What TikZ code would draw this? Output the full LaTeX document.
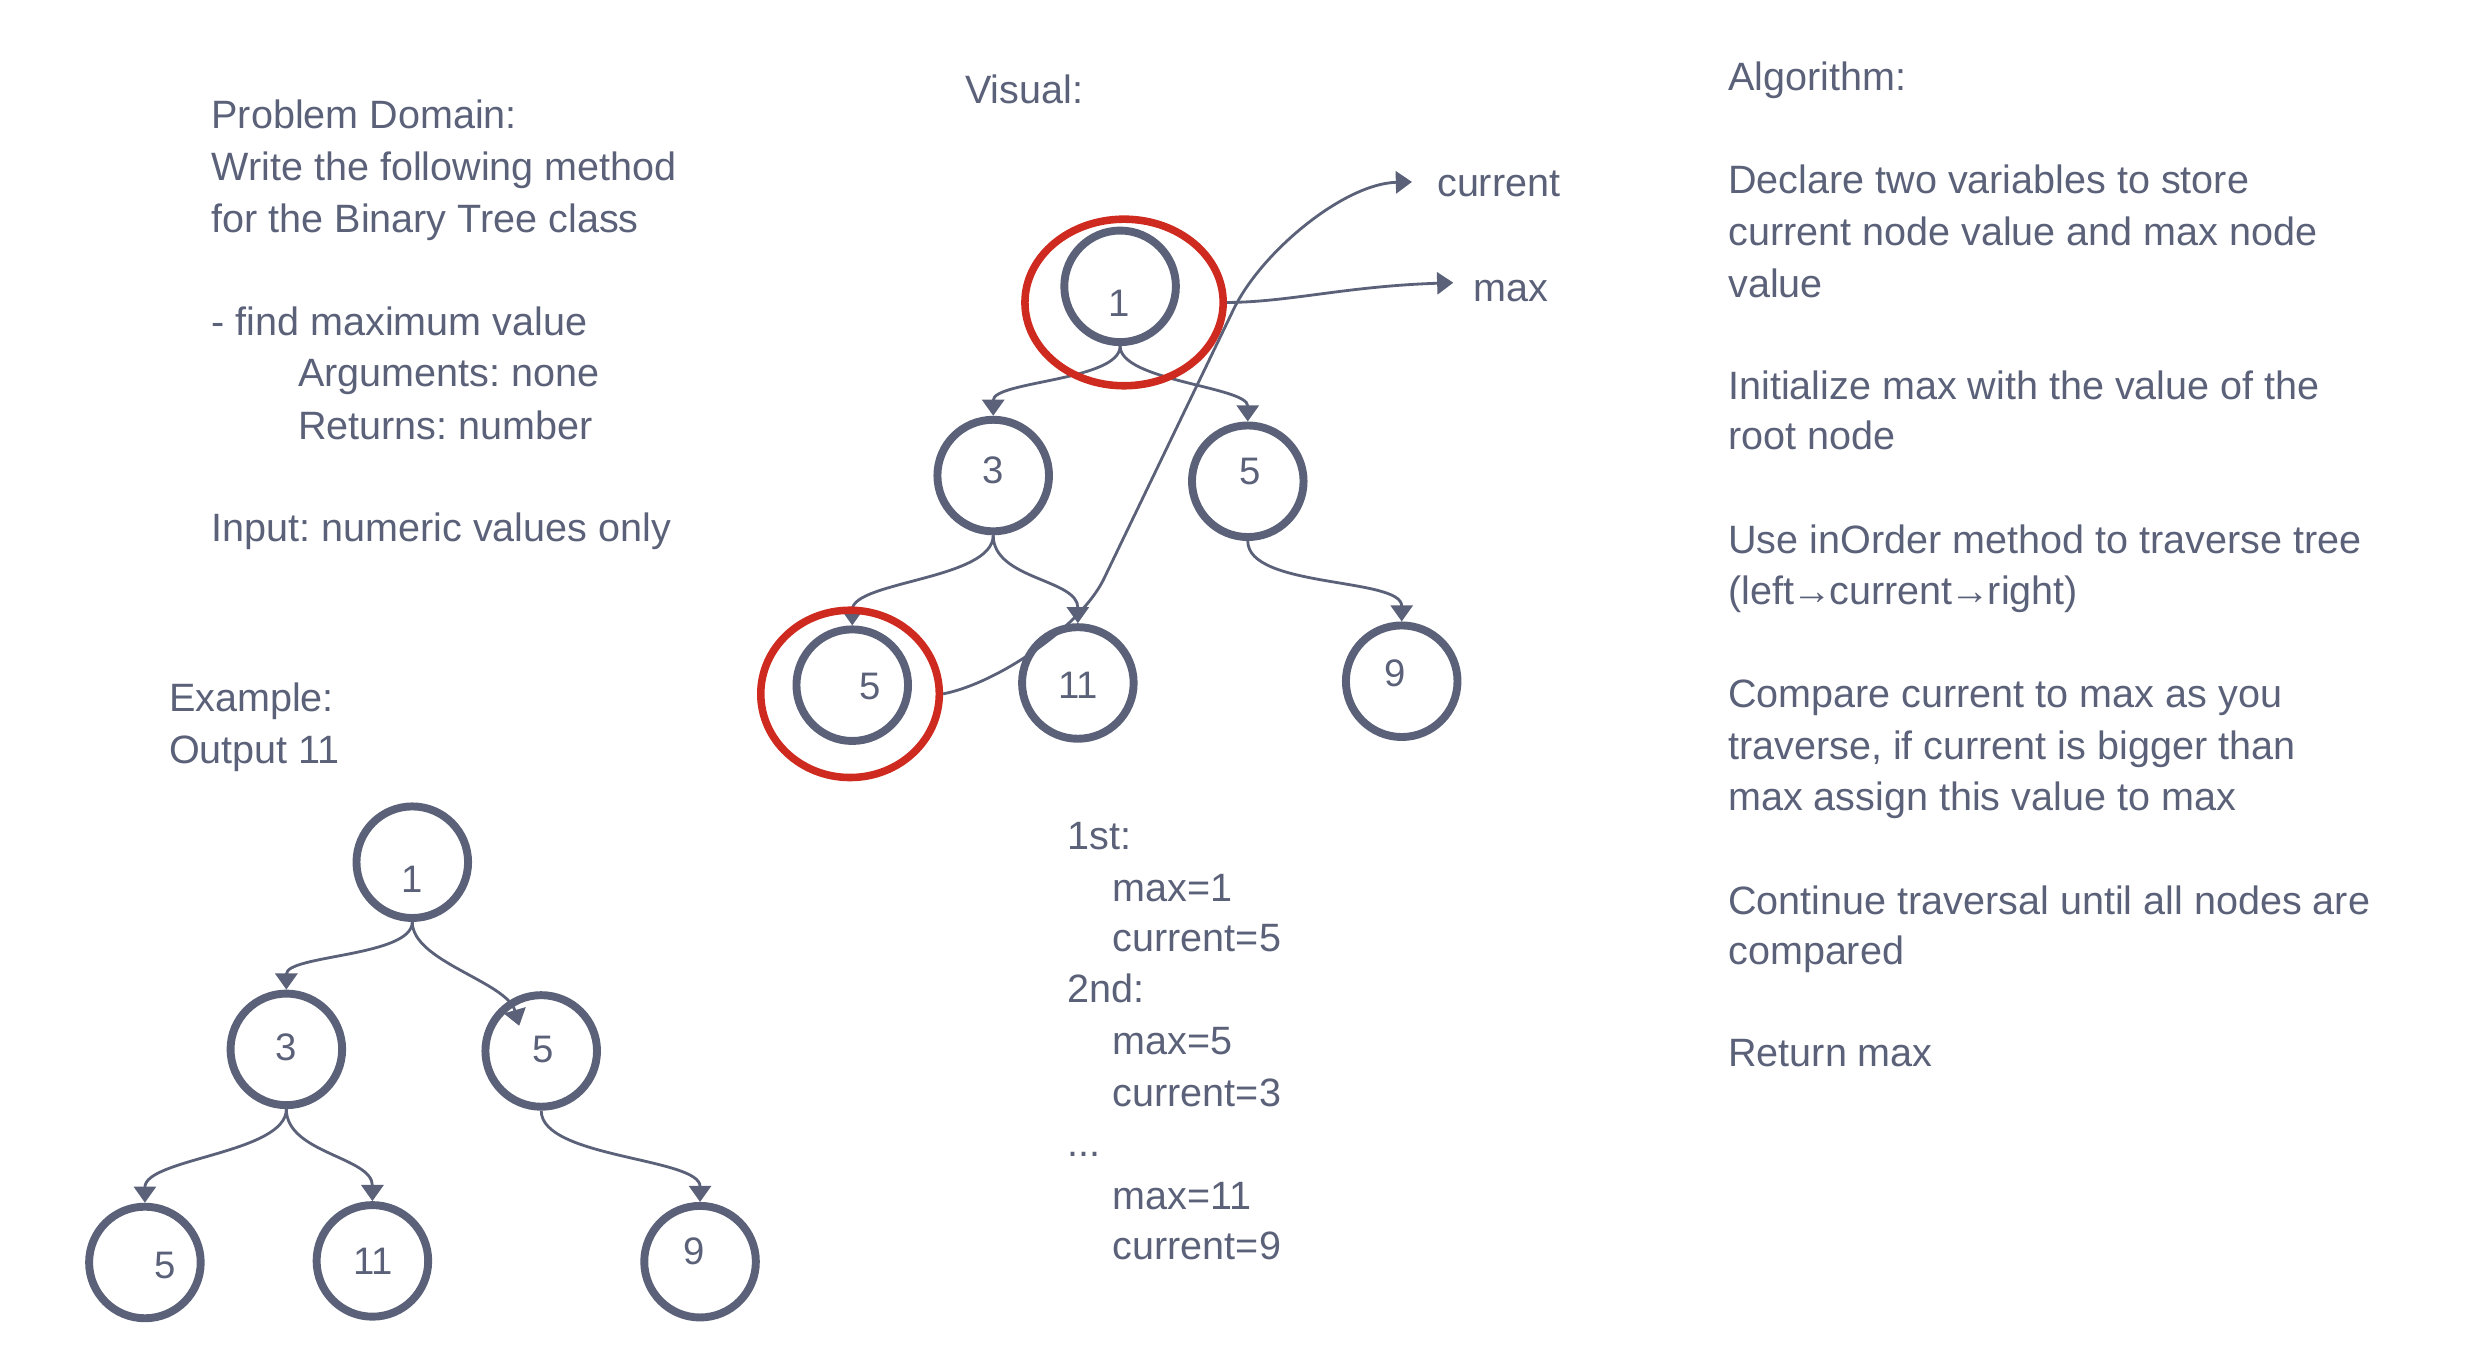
\documentclass[tikz,border=0pt]{standalone}
\usepackage{fontspec}
\setmainfont{Liberation Sans}
\usetikzlibrary{arrows.meta,shapes.geometric}
\definecolor{ink}{HTML}{5A6178}
\definecolor{redc}{HTML}{CF2A1F}
\frenchspacing
\begin{document}
\begin{tikzpicture}[x=0.158205mm,y=-0.158205mm,
  txt/.style={anchor=base west,inner sep=0pt,text=ink,font=\fontsize{11.25}{14}\selectfont},
  num/.style={anchor=center,inner sep=0pt,text=ink,font=\fontsize{10.9}{14}\selectfont},
  circ/.style={circle,draw=ink,line width=2.25pt,minimum size=31.75pt,inner sep=0pt},
  link/.style={draw=ink,line width=0.8pt,-{Triangle[width=6.3pt,length=4.6pt]}},
  redring/.style={ellipse,draw=redc,line width=2.15pt,inner sep=0pt}]
\useasboundingbox (0,0) rectangle (1560,861);

% ---------- left text ----------
\node[txt] (pd1) at (133.3,81.5) {Problem Domain:};
\node[txt] (pd2) at (133.3,114.4) {Write the following method};
\node[txt] (pd3) at (133.3,147.2) {for the Binary Tree class};
\node[txt] (pd4) at (133.3,211.8) {- find maximum value};
\node[txt] (pd5) at (188,244.6) {Arguments: none};
\node[txt] (pd6) at (188,277.5) {Returns: number};
\node[txt] (pd7) at (133.3,342.1) {Input: numeric values only};
\node[txt] (ex1) at (106.4,449.5) {Example:};
\node[txt] (ex2) at (106.4,482.3) {Output 11};

% ---------- middle text ----------
\node[txt] (vis) at (609.6,65.6) {Visual:};
\node[txt] (tr1) at (674.3,537) {1st:};
\node[txt] (tr2) at (703,569.8) {max=1};
\node[txt] (tr3) at (703,601.7) {current=5};
\node[txt] (tr4) at (674.3,633.5) {2nd:};
\node[txt] (tr5) at (703,666.3) {max=5};
\node[txt] (tr6) at (703,699.1) {current=3};
\node[txt] (tr7) at (674.3,731) {...};
\node[txt] (tr8) at (703,764.8) {max=11};
\node[txt] (tr9) at (703,796.4) {current=9};

% ---------- right text ----------
\node[txt] (al0) at (1092,56.9) {Algorithm:};
\node[txt] (al1) at (1092,122.3) {Declare two variables to store};
\node[txt] (al2) at (1092,155.1) {current node value and max node};
\node[txt] (al3) at (1092,188) {value};
\node[txt] (al4) at (1092,252.6) {Initialize max with the value of the};
\node[txt] (al5) at (1092,284.4) {root node};
\node[txt] (al6) at (1092,350.1) {Use inOrder method to traverse tree};
\node[txt] (al7) at (1092,381.9) {(left\kern-0.6pt→\kern-0.6pt current\kern-0.6pt→\kern-0.6pt right)};
\node[txt] (al8) at (1092,447.5) {Compare current to max as you};
\node[txt] (al9) at (1092,480.3) {traverse, if current is bigger than};
\node[txt] (al10) at (1092,512.2) {max assign this value to max};
\node[txt] (al11) at (1092,577.8) {Continue traversal until all nodes are};
\node[txt] (al12) at (1092,609.6) {compared};
\node[txt] (al13) at (1092,674.3) {Return max};

% ---------- visual tree ----------
\node[circ] (v1) at (708,181) {};
\node[circ] (v3) at (627.8,300.6) {};
\node[circ] (v5) at (788.7,304.2) {};
\node[circ] (v5l) at (538.7,433.1) {};
\node[circ] (v11) at (681.3,431.7) {};
\node[circ] (v9) at (886,430.6) {};
\node[num] (nv1) at (707.5,191.7) {1};
\node[num] (nv3) at (627.5,297.4) {3};
\node[num] (nv5) at (790.5,298.1) {5};
\node[num] (nv5l) at (550.3,434) {5};
\node[num] (nv11) at (681.6,433) {11};
\node[num] (nv9) at (882,425.6) {9};

\draw[link] (v1.south) .. controls +(0,22) and +(0,-22) .. (v3.north);
\draw[link] (v1.south) .. controls +(0,22) and +(0,-22) .. (v5.north);
\draw[link] (v3.south) .. controls +(0,28) and +(0,-28) .. (v5l.north);
\draw[link] (v3.south) .. controls +(0,28) and +(0,-28) .. (v11.north);
\draw[link] (v5.south) .. controls +(0,30) and +(0,-28) .. (v9.north);

\node[redring,minimum width=56.4pt,minimum height=47.4pt] (red1) at (710.5,191.2) {};
\node[redring,minimum width=50.8pt,minimum height=47.6pt] (red2) at (537.3,438.6) {};

\coordinate (curtip) at (892.5,115);
\coordinate (maxtip) at (918.6,178.7);
\node[txt] (lcur) at (908,124.3) {current};
\node[txt] (lmax) at (931,190.7) {max};

\draw[link] (red2.east) .. controls (630,432) and (682,397) .. (697.4,366.6)
  -- (779.5,196) .. controls (797.5,158.6) and (850,116) .. (curtip);
\draw[link] (red1.east) .. controls (815,191) and (850,181) .. (maxtip);

% ---------- example tree ----------
\node[circ] (e1) at (260.6,545) {};
\node[circ] (e3) at (181,663.3) {};
\node[circ] (e5) at (342.1,664.3) {};
\node[circ] (e5l) at (91.6,798) {};
\node[circ] (e11) at (235.4,797) {};
\node[circ] (e9) at (442.5,797.5) {};
\node[num] (ne1) at (260.6,556) {1};
\node[num] (ne3) at (181,662.3) {3};
\node[num] (ne5) at (343.1,663.3) {5};
\node[num] (ne5l) at (104.2,799.6) {5};
\node[num] (ne11) at (235.7,797) {11};
\node[num] (ne9) at (439,790.7) {9};

\coordinate (etip) at (328.2,648.4);
\draw[link] (e1.south) .. controls +(0,22) and +(0,-22) .. (e3.north);
\draw[link] (e1.south) .. controls +(0,25) and +(-8,-28) .. (etip);
\draw[link] (e3.south) .. controls +(0,28) and +(0,-28) .. (e5l.north);
\draw[link] (e3.south) .. controls +(0,28) and +(0,-28) .. (e11.north);
\draw[link] (e5.south) .. controls +(0,30) and +(0,-28) .. (e9.north);
\end{tikzpicture}
\end{document}
